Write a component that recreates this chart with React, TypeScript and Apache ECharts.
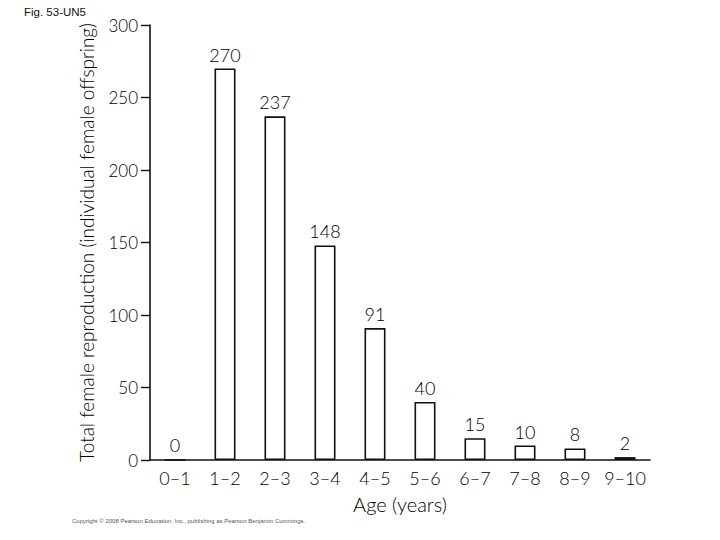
import React, { useEffect, useRef } from "react";
import * as echarts from "echarts";

const categories = ["0–1", "1–2", "2–3", "3–4", "4–5", "5–6", "6–7", "7–8", "8–9", "9–10"];
const values = [0, 270, 237, 148, 91, 40, 15, 10, 8, 2];
const yTicks = { min: 0, max: 300, interval: 50 };
const titleText = "Fig. 53-UN5";
const yName = "Total female reproduction (individual female offspring)";
const xName = "Age (years)";
const copyright = "Copyright © 2008 Pearson Education, Inc., publishing as Pearson Benjamin Cummings.";

const HAND = "Lato, 'Open Sans', 'DejaVu Sans', sans-serif";

export default function App() {
  const ref = useRef<HTMLDivElement>(null);
  useEffect(() => {
    document.body.style.margin = "0";
    if (!ref.current) return;
    const chart = echarts.init(ref.current, undefined, { renderer: "svg" });
    chart.setOption({
      animation: false,
      backgroundColor: "#ffffff",
      title: {
        text: titleText,
        left: 19,
        top: 1,
        textStyle: { fontFamily: "'Liberation Sans', Arial, sans-serif", fontSize: 11.5, fontWeight: "normal", color: "#111" },
      },
      grid: { left: 150, right: 70, top: 25, bottom: 80 },
      xAxis: {
        type: "category",
        data: categories,
        name: xName,
        nameLocation: "middle",
        nameGap: 34,
        nameTextStyle: { fontFamily: HAND, fontSize: 20, fontWeight: 300, color: "#000" },
        axisLine: { show: true, lineStyle: { color: "#111", width: 1.6 } },
        axisTick: { show: false },
        axisLabel: { interval: 0, fontFamily: HAND, fontSize: 18, fontWeight: 300, color: "#000", margin: 9 },
      },
      yAxis: {
        type: "value",
        min: yTicks.min,
        max: yTicks.max,
        interval: yTicks.interval,
        name: yName,
        nameLocation: "middle",
        nameGap: 54,
        nameTextStyle: { fontFamily: HAND, fontSize: 19, fontWeight: 300, color: "#000" },
        axisLine: { show: true, lineStyle: { color: "#111", width: 1.6 } },
        axisTick: { show: true, length: 9, lineStyle: { color: "#111", width: 1.4 } },
        axisLabel: { fontFamily: HAND, fontSize: 17, fontWeight: 300, color: "#000", margin: 12 },
        splitLine: { show: false },
      },
      series: [
        {
          type: "bar",
          data: values,
          barWidth: 21,
          itemStyle: { color: "#ffffff", borderColor: "#111", borderWidth: 1.6 },
          label: {
            show: true,
            position: "top",
            distance: 5,
            fontFamily: HAND,
            fontSize: 18,
            fontWeight: 300,
            color: "#000",
          },
        },
      ],
      graphic: [
        {
          type: "text",
          left: 72,
          top: 518,
          style: { text: copyright, fontFamily: "'Liberation Sans', Arial, sans-serif", fontSize: 6, fill: "#555" },
        },
      ],
    });
    return () => chart.dispose();
  }, []);
  return <div ref={ref} style={{ width: 720, height: 540 }} />;
}
